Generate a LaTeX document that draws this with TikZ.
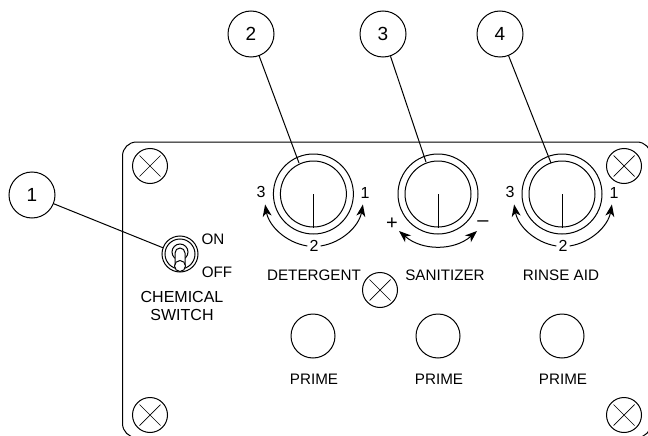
\documentclass[tikz,border=0pt]{standalone}
\usepackage{fontspec}
\setmainfont{Liberation Sans}
\usetikzlibrary{arrows.meta}
\tikzset{
  ink/.style={line width=1pt,black},
  callout/.style={draw,ink,circle,minimum size=46pt,inner sep=0pt,font=\fontsize{19}{19}\selectfont},
  screw/.style={draw,ink,circle,minimum size=35pt,inner sep=0pt},
  primebtn/.style={draw,ink,circle,minimum size=44pt,inner sep=0pt},
  lbl/.style={font=\fontsize{15.2}{18}\selectfont,inner sep=0pt,align=center},
  num/.style={font=\fontsize{16}{16}\selectfont,inner sep=0pt},
  tip/.style={-{Stealth[length=12pt,width=9pt,inset=3.5pt]}},
  tips/.style={{Stealth[length=12pt,width=9pt,inset=3.5pt]}-{Stealth[length=12pt,width=9pt,inset=3.5pt]}},
}
\newcommand{\screwat}[3]{%
  \node[screw] (#1) at (#2,#3) {};
  \draw[line width=0.7pt] (#2-10.5,#3-10.5) -- (#2+10.5,#3+10.5) (#2-10.5,#3+10.5) -- (#2+10.5,#3-10.5);
}
\newcommand{\knobat}[2]{%
  \node[draw,ink,circle,minimum size=80pt,inner sep=0pt] (#1o) at (#2,194) {};
  \node[draw,ink,circle,minimum size=66pt,inner sep=0pt] (#1i) at (#2,194) {};
  \coordinate (#1c) at (#2,194);
  \draw[ink] (#1c) -- (#1i.south);
}
\begin{document}
\begin{tikzpicture}[x=1pt,y=-1pt]
\clip (0,0) rectangle (648,436);
\draw[ink,rounded corners=14pt] (122.5,437.5) rectangle (651,142);
\screwat{s1}{150}{166}
\screwat{s2}{624}{166}
\screwat{s3}{150}{415}
\screwat{s4}{624}{415}
\screwat{s5}{380}{290}
\knobat{ka}{313.4}
\knobat{kb}{438}
\knobat{kc}{562}
\node[callout] (c1) at (32,195) {1};
\node[callout] (c2) at (251,34) {2};
\node[callout] (c3) at (383,34) {3};
\node[callout] (c4) at (500,34) {4};
\coordinate (t1) at (163.5,248);
\coordinate (t2) at (299,163);
\coordinate (t3) at (426,162);
\coordinate (t4) at (551,163);
\draw[ink] (c1) -- (t1);
\draw[ink] (c2) -- (t2);
\draw[ink] (c3) -- (t3);
\draw[ink] (c4) -- (t4);
% toggle switch
\node[draw,ink,circle,minimum size=36pt,inner sep=0pt] (sw) at (180,254) {};
\node[draw,ink,circle,minimum size=30pt,inner sep=0pt] (sw2) at (180,254) {};
\node[draw,ink,circle,minimum size=16pt,inner sep=0pt] (sw3) at (180,252) {};
\draw[ink,fill=white] (175,266) -- (175,253) arc[start angle=180,end angle=0,radius=5pt] -- (185,266) -- cycle;
\node[draw,ink,fill=white,circle,minimum size=11pt,inner sep=0pt] (sw4) at (180,266) {};
\node[lbl] (on) at (213,239) {ON};
\node[lbl] (off) at (217,272) {OFF};
\node[lbl,font=\fontsize{16}{18}\selectfont] (cs) at (182,306) {CHEMICAL\\SWITCH};
% scale labels
\foreach \k/\x in {ka/313,kc/562}{
  \node[num] (\k n2) at (\x+1,246) {2};
  \node[num] (\k n3) at (\x-52,192) {3};
  \node[num] (\k n1) at (\x+52,193) {1};
  \draw[ink,tip] (\k n2.west) ++(-2,0) arc[start angle=-99,end angle=-170,radius=51pt];
  \draw[ink,tip] (\k n2.east) ++(2,0) arc[start angle=-81,end angle=-10,radius=51pt];
}
\node[num,font=\fontsize{20}{20}\selectfont] (plus) at (392,224) {+};
\node[num,font=\fontsize{20}{20}\selectfont] (minus) at (483,224) {–};
\draw[ink,tips] (399,231) .. controls (422,251) and (454,251) .. (477,231);
% labels
\node[lbl] (l1) at (314,275) {DETERGENT};
\node[lbl] (l2) at (445,275) {SANITIZER};
\node[lbl] (l3) at (561,275) {RINSE AID};
\foreach \n/\x in {a/313,b/438,c/562}{
  \node[primebtn] (p\n) at (\x,336) {};
  \node[lbl] (pl\n) at (\x+1,379) {PRIME};
}
\end{tikzpicture}
\end{document}
